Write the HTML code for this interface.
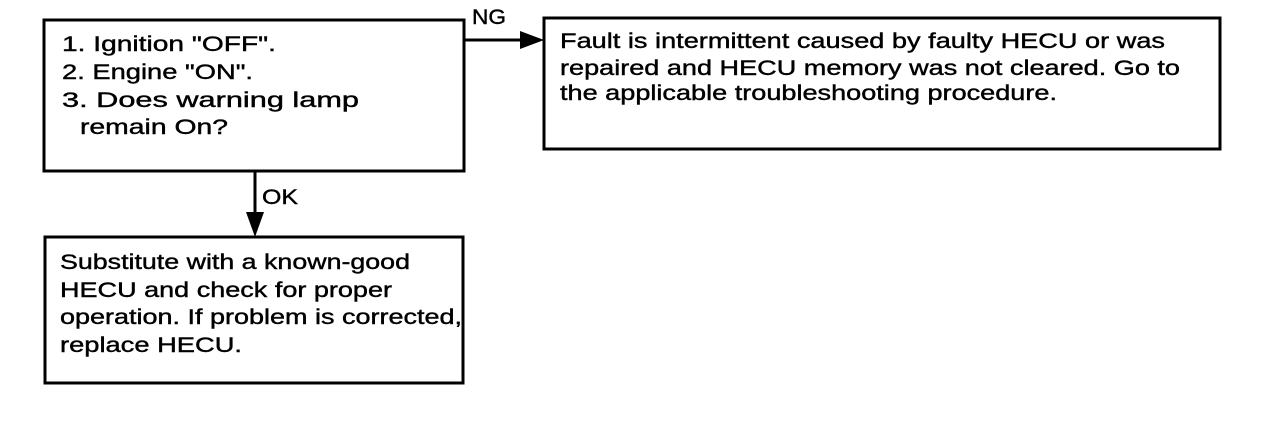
<!DOCTYPE html>
<html><head><meta charset="utf-8"><style>
html,body{margin:0;padding:0;background:#fff;}
svg{display:block;}
text{font-family:"Liberation Sans",Arial,sans-serif;font-size:21px;fill:#000;stroke:#000;stroke-width:0.4px;}
</style></head><body>
<svg width="1280" height="422" viewBox="0 0 1280 422" xmlns="http://www.w3.org/2000/svg">
<g fill="none" stroke="#000" stroke-width="3">
<rect x="44" y="20" width="420" height="151"/>
<rect x="544" y="18" width="676" height="131"/>
<rect x="45" y="237" width="418" height="146"/>
<line x1="464" y1="40" x2="522" y2="40"/>
<line x1="255" y1="171" x2="255" y2="215"/>
</g>
<polygon points="520,31 544,40 520,49" fill="#000"/>
<polygon points="246,212 264,212 255,237" fill="#000"/>
<text x="472" y="24" textLength="34" lengthAdjust="spacingAndGlyphs">NG</text>
<text x="262" y="204" textLength="36" lengthAdjust="spacingAndGlyphs">OK</text>
<text x="62" y="51" textLength="214" lengthAdjust="spacingAndGlyphs">1. Ignition "OFF".</text>
<text x="62" y="79" textLength="191" lengthAdjust="spacingAndGlyphs">2. Engine "ON".</text>
<text x="62" y="107" textLength="297" lengthAdjust="spacingAndGlyphs">3. Does warning lamp</text>
<text x="80" y="134" textLength="148" lengthAdjust="spacingAndGlyphs">remain On?</text>
<text x="560" y="48" textLength="605" lengthAdjust="spacingAndGlyphs">Fault is intermittent caused by faulty HECU or was</text>
<text x="560" y="75" textLength="620" lengthAdjust="spacingAndGlyphs">repaired and HECU memory was not cleared. Go to</text>
<text x="560" y="100" textLength="497" lengthAdjust="spacingAndGlyphs">the applicable troubleshooting procedure.</text>
<text x="60" y="269" textLength="350" lengthAdjust="spacingAndGlyphs">Substitute with a known-good</text>
<text x="60" y="297" textLength="332" lengthAdjust="spacingAndGlyphs">HECU and check for proper</text>
<text x="60" y="324" textLength="402" lengthAdjust="spacingAndGlyphs">operation. If problem is corrected,</text>
<text x="60" y="352" textLength="182" lengthAdjust="spacingAndGlyphs">replace HECU.</text>
</svg>
</body></html>
